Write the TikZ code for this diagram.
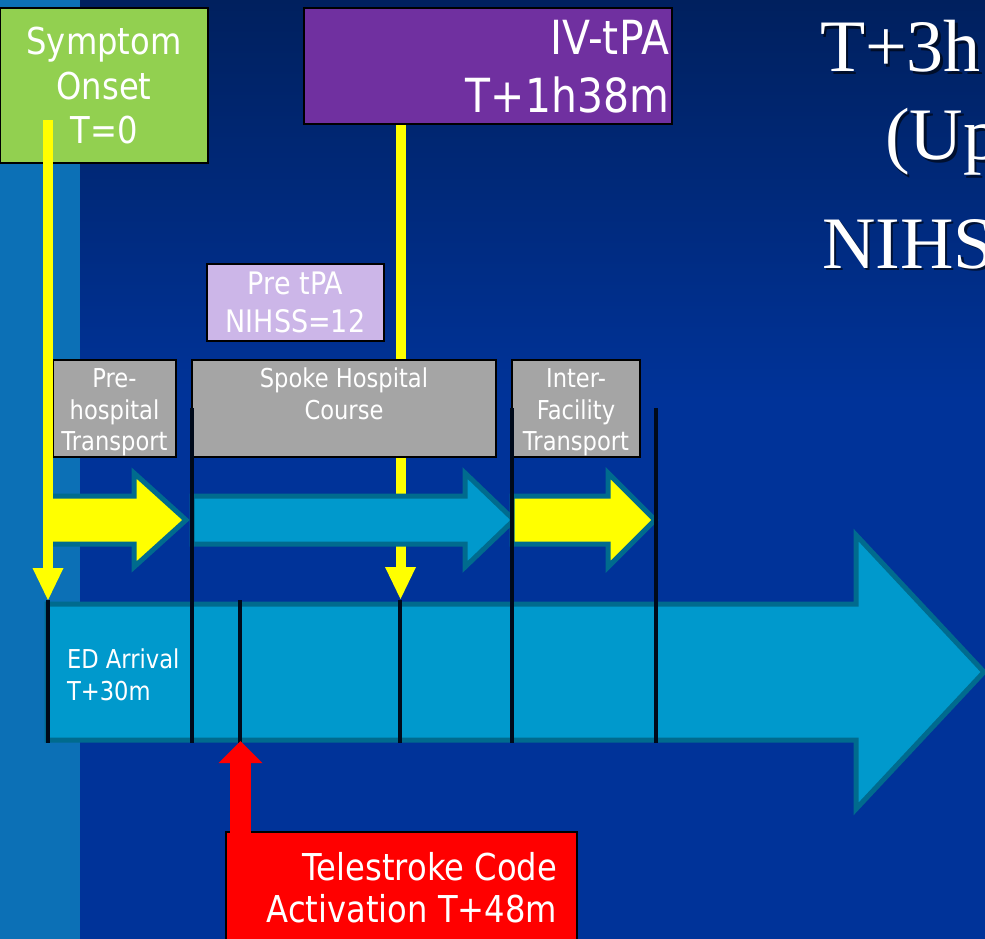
\documentclass[tikz,border=0pt]{standalone}
\usepackage{fontspec}
\setmainfont{DejaVu Sans}[FakeStretch=0.87]
\newfontfamily\titleserif{Liberation Serif}
\usetikzlibrary{arrows.meta}
\definecolor{bgtop}{HTML}{00205E}
\definecolor{bgbot}{HTML}{003399}
\definecolor{stripc}{HTML}{0C70B6}
\definecolor{greenc}{HTML}{92D050}
\definecolor{purplec}{HTML}{7030A0}
\definecolor{lavc}{HTML}{CCB6E8}
\definecolor{grayc}{HTML}{A5A5A5}
\definecolor{cyanc}{HTML}{0099CC}
\definecolor{tealc}{HTML}{006B8E}
\definecolor{yelc}{HTML}{FFFF00}
\definecolor{redc}{HTML}{FF0000}
\definecolor{tickc}{HTML}{000A1A}
\begin{document}
\begin{tikzpicture}[x=1pt,y=-1pt,
  box/.style={draw=black, line width=2pt, inner sep=0pt, outer sep=0pt},
  txt/.style={text=white, inner sep=0pt, outer sep=0pt},
  tick/.style={draw=tickc, line width=4.5pt},
  yconn/.style={draw=yelc, line width=10pt, -{Triangle[width=31pt,length=32pt,line width=0pt]}},
  rconn/.style={draw=redc, line width=21pt, -{Triangle[width=44pt,length=22pt,line width=0pt]}},
  harrow/.style={draw=tealc, line width=5pt, line join=miter},
  fsym/.style={font=\fontsize{37}{44}\selectfont},
  fiv/.style={font=\fontsize{47}{58}\selectfont},
  fgray/.style={font=\fontsize{26}{31}\selectfont},
  flav/.style={font=\fontsize{31}{37}\selectfont},
  fred/.style={font=\fontsize{37}{42}\selectfont},
  fed/.style={font=\fontsize{26}{32}\selectfont},
  fserif/.style={font=\titleserif\fontsize{74}{88}\selectfont, inner sep=0pt, outer sep=0pt}
]
\useasboundingbox (0,0) rectangle (985,939);
\begin{scope}
\clip (0,0) rectangle (985,939);
% background
\shade[top color=bgtop, bottom color=bgbot] (0,0) rectangle (985,400);
\fill[bgbot] (0,399) rectangle (985,939);
\fill[stripc] (0,0) rectangle (80,939);

% connector from IV-tPA (behind boxes and arrows)
\coordinate (y2s) at (400.5,124);
\coordinate (y2e) at (400.5,599);
\draw[yconn] (y2s) -- (y2e);

% boxes
\node[box, fill=greenc, minimum width=208pt, minimum height=155pt] (onset) at (104,85.5) {};
\node[box, fill=purplec, minimum width=368pt, minimum height=116pt] (ivtpa) at (488,66) {};
\node[box, fill=lavc, minimum width=177pt, minimum height=77pt] (pretpa) at (295.5,302.5) {};
\node[box, fill=grayc, minimum width=123pt, minimum height=97pt] (prehosp) at (114.5,408.5) {};
\node[box, fill=grayc, minimum width=304pt, minimum height=97pt] (spoke) at (344,408.5) {};
\node[box, fill=grayc, minimum width=128pt, minimum height=97pt] (inter) at (576,408.5) {};

% process arrows row
\filldraw[harrow, fill=yelc] (50,496) -- (134,496) -- (134,473) -- (186,520) -- (134,567) -- (134,544) -- (50,544) -- cycle;
\filldraw[harrow, fill=cyanc] (192,496) -- (465,496) -- (465,473) -- (514,520) -- (465,567) -- (465,544) -- (192,544) -- cycle;
\filldraw[harrow, fill=yelc] (512,496) -- (608,496) -- (608,473) -- (655,520) -- (608,567) -- (608,544) -- (512,544) -- cycle;

% big timeline arrow
\filldraw[harrow, fill=cyanc] (47,604) -- (856,604) -- (856,535) -- (984,672) -- (856,809) -- (856,740) -- (47,740) -- cycle;

% ticks
\draw[tick] (48,600) -- (48,743);
\draw[tick] (192,408) -- (192,743);
\draw[tick] (240,600) -- (240,743);
\draw[tick] (400,600) -- (400,743);
\draw[tick] (512,408) -- (512,743);
\draw[tick] (656,408) -- (656,743);

% connector from symptom onset
\coordinate (y1s) at (48,120);
\coordinate (y1e) at (48,600);
\draw[yconn] (y1s) -- (y1e);

% telestroke box and arrow
\node[box, fill=redc, minimum width=351pt, minimum height=120pt] (tele) at (401.5,892) {};
\coordinate (rs) at (240.5,833);
\coordinate (re) at (240.5,741);
\draw[rconn] (rs) -- (re);

% texts
\node[txt, fsym, anchor=base] (s1) at (104,55) {Symptom};
\node[txt, fsym, anchor=base] (s2) at (104,100) {Onset};
\node[txt, fsym, anchor=base] (s3) at (104,144) {T=0};

\node[txt, fiv, anchor=base east] (iv1) at (669,55) {IV-tPA};
\node[txt, fiv, anchor=base east] (iv2) at (669,113) {T+1h38m};

\node[txt, flav, anchor=base] (l1) at (295.5,294) {Pre tPA};
\node[txt, flav, anchor=base] (l2) at (295.5,332) {NIHSS=12};

\node[txt, fgray, anchor=base] (p1) at (114.5,387) {Pre-};
\node[txt, fgray, anchor=base] (p2) at (114.5,419) {hospital};
\node[txt, fgray, anchor=base] (p3) at (114.5,450) {Transport};

\node[txt, fgray, anchor=base] (k1) at (344,387) {Spoke Hospital};
\node[txt, fgray, anchor=base] (k2) at (344,419) {Course};

\node[txt, fgray, anchor=base] (i1) at (576,387) {Inter-};
\node[txt, fgray, anchor=base] (i2) at (576,419) {Facility};
\node[txt, fgray, anchor=base] (i3) at (576,450) {Transport};

\node[txt, fed, anchor=base west] (e1) at (67,668) {ED Arrival};
\node[txt, fed, anchor=base west] (e2) at (67,700) {T+30m};

\node[txt, fred, anchor=base east] (r1) at (557,880) {Telestroke Code};
\node[txt, fred, anchor=base east] (r2) at (557,922) {Activation T+48m};

% serif title text with shadow
\node[fserif, text=black, opacity=0.6, anchor=base west] (h1s) at (822.5,74.5) {T+3h};
\node[fserif, text=white, anchor=base west] (h1) at (820,72) {T+3h};
\node[fserif, text=black, opacity=0.6, anchor=base west] (h2s) at (887.5,162.5) {(Up};
\node[fserif, text=white, anchor=base west] (h2) at (885,160) {(Up};
\node[fserif, text=black, opacity=0.6, anchor=base west] (h3s) at (824.5,270.5) {NIHS};
\node[fserif, text=white, anchor=base west] (h3) at (822,268) {NIHS};
\end{scope}
\end{tikzpicture}
\end{document}
